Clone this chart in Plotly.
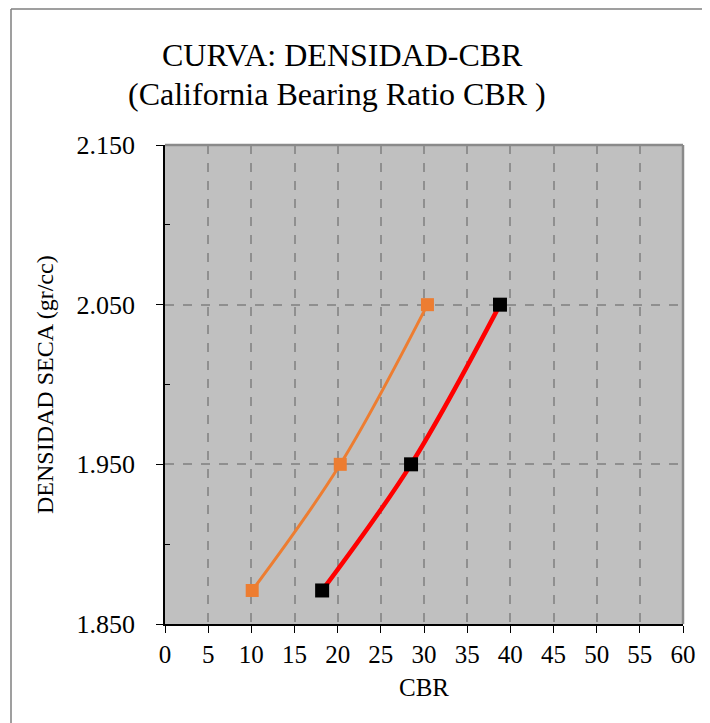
import plotly.graph_objects as go

# Data
density = [1.871, 1.950, 2.050]
cbr_orange = [10.1, 20.3, 30.4]
cbr_red = [18.2, 28.5, 38.8]
x_ticks = list(range(0, 61, 5))
y_tick_vals = [1.85, 1.95, 2.05, 2.15]

W, H = 710, 723
OFF = 8  # default page body margin
L, R, T, B = 157, 35, 137, 107
pw, ph = W - L - R, H - T - B

def px(sx):
    return (sx - OFF - L) / pw

def py(sy):
    return (H - B - (sy - OFF)) / ph

FONT = "Liberation Serif"

fig = go.Figure()
fig.add_trace(go.Scatter(
    x=cbr_orange, y=density, mode="lines+markers",
    line=dict(color="#ED7D31", width=3, shape="spline", smoothing=1),
    marker=dict(symbol="square", size=13, color="#ED7D31"),
    showlegend=False))
fig.add_trace(go.Scatter(
    x=cbr_red, y=density, mode="lines",
    line=dict(color="#FF0000", width=4.5, shape="spline", smoothing=1),
    showlegend=False))
fig.add_trace(go.Scatter(
    x=cbr_red, y=density, mode="markers",
    marker=dict(symbol="square", size=14, color="#000000"),
    showlegend=False))

fig.update_layout(
    width=W, height=H,
    margin=dict(l=L, r=R, t=T, b=B, pad=0),
    paper_bgcolor="white", plot_bgcolor="#C0C0C0",
    font=dict(family=FONT, size=24, color="black"),
    xaxis=dict(range=[0, 60], tickvals=x_ticks, showgrid=True,
               gridcolor="#8f8f8f", griddash="dash", gridwidth=1.5,
               zeroline=False, showline=True, linecolor="black", linewidth=1.5,
               ticks="outside", ticklen=7, tickcolor="black",
               tickfont=dict(size=25, family=FONT)),
    yaxis=dict(range=[1.85, 2.15], tickvals=y_tick_vals, tickformat=".3f",
               showgrid=True, gridcolor="#8f8f8f", griddash="dash", gridwidth=1.5,
               zeroline=False, showline=True, linecolor="black", linewidth=1.5,
               ticks="outside", ticklen=7, tickcolor="black",
               ticklabelstandoff=16,
               tickfont=dict(size=26, family=FONT),
               minor=dict(tickvals=[1.9, 2.0, 2.1], ticks="inside", ticklen=5,
                          tickcolor="black", showgrid=False)),
)

shapes = [
    # plot top & right borders (gray)
    dict(type="line", xref="paper", yref="paper", x0=0, x1=1, y0=1, y1=1,
         line=dict(color="#8a8a8a", width=2.5)),
    dict(type="line", xref="paper", yref="paper", x0=1, x1=1, y0=0, y1=1,
         line=dict(color="#8a8a8a", width=2.5)),
    # outer chart frame (left & top)
    dict(type="line", xref="paper", yref="paper", x0=px(11), x1=px(W + 20),
         y0=py(9), y1=py(9), line=dict(color="#7f7f7f", width=1.5)),
    dict(type="line", xref="paper", yref="paper", x0=px(11), x1=px(11),
         y0=py(9), y1=py(H + 20), line=dict(color="#7f7f7f", width=1.5)),
]
fig.update_layout(shapes=shapes)

annotations = [
    dict(text="CURVA: DENSIDAD-CBR", x=px(342), y=py(55), xref="paper", yref="paper",
         showarrow=False, font=dict(size=32, family=FONT), xanchor="center", yanchor="middle"),
    dict(text="(California Bearing Ratio CBR )", x=px(337), y=py(94), xref="paper", yref="paper",
         showarrow=False, font=dict(size=32, family=FONT), xanchor="center", yanchor="middle"),
    dict(text="DENSIDAD SECA (gr/cc)", x=px(45), y=py(385), xref="paper", yref="paper",
         showarrow=False, textangle=-90, font=dict(size=24, family=FONT),
         xanchor="center", yanchor="middle"),
    dict(text="CBR", x=px(424), y=py(687), xref="paper", yref="paper",
         showarrow=False, font=dict(size=25, family=FONT), xanchor="center", yanchor="middle"),
]
fig.update_layout(annotations=annotations)

fig.write_html("out.html")
